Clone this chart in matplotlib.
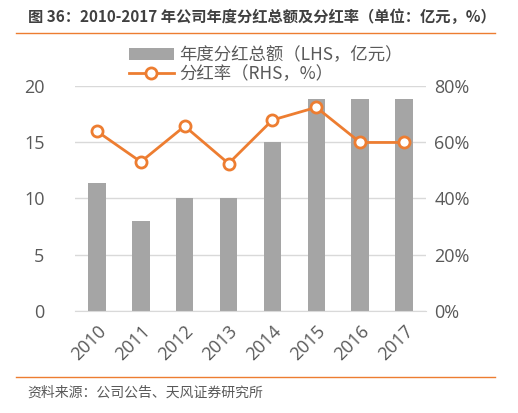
import matplotlib
matplotlib.use("Agg")
import matplotlib.pyplot as plt
from matplotlib.lines import Line2D
from matplotlib.patches import Patch
from matplotlib.ticker import FuncFormatter

plt.rcParams['font.family'] = ['Noto Sans CJK SC', 'DejaVu Sans']

years = ["2010", "2011", "2012", "2013", "2014", "2015", "2016", "2017"]
dividend = [11.4, 8.0, 10.0, 10.0, 15.0, 18.8, 18.8, 18.8]
payout_ratio = [63.9, 53.0, 65.7, 52.4, 67.9, 72.4, 59.9, 59.9]

W, H = 518, 413
fig = plt.figure(figsize=(W / 100, H / 100), dpi=100)

def fx(px): return px / W
def fy(py): return 1 - py / H

ax = fig.add_axes([fx(75), fy(310.7), fx(426) - fx(75), fy(86) - fy(310.7)])
ax2 = ax.twinx()

tc = '#595959'
x = list(range(len(years)))
ax.bar(x, dividend, width=0.4, color='#A5A5A5', zorder=2)
ax.set_xlim(-0.5, 7.5)
ax.set_ylim(0, 20)
ax.set_yticks([0, 5, 10, 15, 20])
ax.yaxis.grid(True, color='#D9D9D9', linewidth=1)
ax.set_axisbelow(True)
for s in ['top', 'right', 'left']:
    ax.spines[s].set_visible(False)
ax.spines['bottom'].set_color('#D9D9D9')
ax.tick_params(axis='both', length=0, labelsize=13, colors=tc)
ax.tick_params(axis='y', pad=22)
ax.set_xticks(x)
ax.set_xticklabels(years, rotation=45, ha='right', rotation_mode='anchor', fontsize=13)
ax.tick_params(axis='x', pad=8)
for lab in ax.get_xticklabels():
    lab.set_family(['Open Sans', 'DejaVu Sans'])
for lab in ax.get_yticklabels():
    lab.set_family(['Open Sans', 'DejaVu Sans'])

ax2.plot(x, payout_ratio, color='#ED7D31', linewidth=2, marker='o', markersize=8,
         markerfacecolor='white', markeredgecolor='#ED7D31', markeredgewidth=2, zorder=3)
ax2.set_ylim(0, 80)
ax2.set_yticks([0, 20, 40, 60, 80])
ax2.yaxis.set_major_formatter(FuncFormatter(lambda v, p: f"{int(v)}%"))
for s in ['top', 'right', 'left', 'bottom']:
    ax2.spines[s].set_visible(False)
ax2.tick_params(axis='y', length=0, labelsize=13, colors=tc, pad=6)
for lab in ax2.get_yticklabels():
    lab.set_family(['Open Sans', 'DejaVu Sans'])

# Legend
handles = [Patch(facecolor='#A5A5A5', edgecolor='none'),
           Line2D([0], [0], color='#ED7D31', linewidth=2, marker='o', markersize=8,
                  markerfacecolor='white', markeredgecolor='#ED7D31', markeredgewidth=2)]
labels = ['年度分红总额（LHS，亿元）', '分红率（RHS，%）']
fig.legend(handles, labels, loc='upper left', bbox_to_anchor=(fx(120), fy(37)),
           frameon=False, fontsize=12.5, labelcolor=tc, handlelength=2.6,
           handletextpad=0.3, borderpad=0, labelspacing=0.1)

# Title and decorations
fig.text(fx(28), fy(17), '图 36：2010-2017 年公司年度分红总额及分红率（单位：亿元，%）',
         fontsize=11, fontweight='bold', color='#404040', va='center', ha='left')
fig.add_artist(Line2D([fx(16), fx(495)], [fy(33), fy(33)], color='#ED7D31', linewidth=1))
fig.add_artist(Line2D([fx(16), fx(495)], [fy(377), fy(377)], color='#ED7D31', linewidth=1))
fig.text(fx(27), fy(393), '资料来源：公司公告、天风证券研究所', fontsize=10, color=tc,
         va='center', ha='left')

fig.savefig('out.png', dpi=100)
